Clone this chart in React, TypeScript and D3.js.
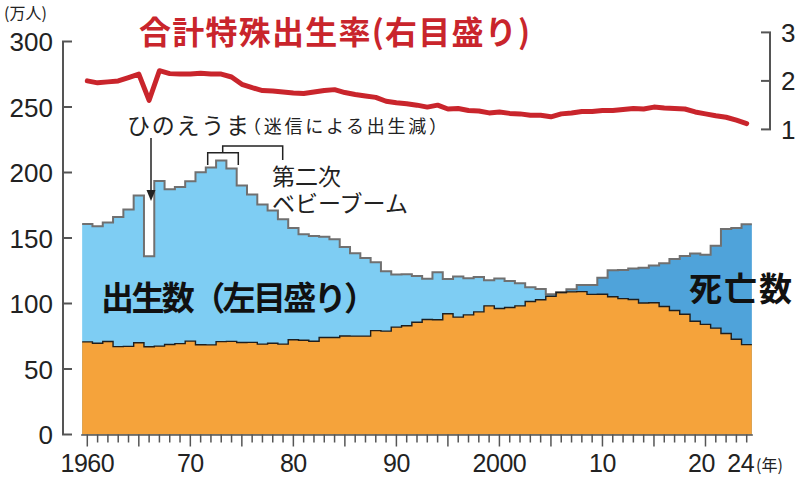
import React from 'react';
import * as d3 from 'd3';

// 1960〜2024年
const years = d3.range(1960, 2025);

// 出生数(万人)
const births = [
  160.6, 158.9, 161.9, 166.0, 171.7, 182.4, 136.1, 193.6, 187.2, 188.9,
  193.4, 200.1, 203.9, 209.2, 203.0, 190.1, 183.2, 175.5, 170.9, 164.3,
  157.7, 152.9, 151.5, 150.9, 149.0, 143.2, 138.3, 134.7, 131.4, 124.7,
  122.2, 122.3, 120.9, 118.8, 123.8, 118.7, 120.7, 119.2, 120.3, 117.8,
  119.1, 117.1, 115.4, 112.4, 111.1, 107.0, 108.5, 108.9, 109.1, 107.0,
  107.1, 105.1, 103.7, 103.0, 100.4, 100.6, 97.7, 94.6, 91.8, 86.5,
  84.1, 81.2, 77.1, 72.7, 68.6,
];

// 死亡数(万人)
const deaths = [
  70.7, 69.6, 71.0, 67.1, 67.3, 70.0, 67.0, 67.5, 68.7, 69.4,
  71.3, 68.5, 68.4, 70.9, 71.1, 70.2, 70.3, 69.0, 69.6, 69.0,
  72.3, 72.0, 71.2, 74.0, 74.0, 75.2, 75.1, 75.1, 79.3, 78.9,
  82.0, 83.0, 85.7, 87.8, 87.6, 92.2, 89.6, 91.3, 93.6, 98.2,
  96.2, 97.0, 98.2, 101.5, 102.9, 105.5, 108.4, 110.9, 114.2, 114.2,
  119.7, 125.3, 125.6, 126.8, 127.3, 129.0, 130.8, 134.0, 136.2, 138.1,
  137.3, 144.0, 156.9, 157.6, 160.5,
];

// 合計特殊出生率
const tfr = [
  2.00, 1.96, 1.98, 2.00, 2.07, 2.14, 1.60, 2.21, 2.15, 2.14,
  2.14, 2.16, 2.14, 2.14, 2.08, 1.93, 1.86, 1.80, 1.79, 1.77,
  1.75, 1.74, 1.77, 1.80, 1.82, 1.76, 1.72, 1.69, 1.66, 1.58,
  1.55, 1.53, 1.50, 1.46, 1.50, 1.42, 1.43, 1.39, 1.38, 1.34,
  1.36, 1.33, 1.32, 1.29, 1.29, 1.26, 1.32, 1.34, 1.37, 1.37,
  1.39, 1.39, 1.41, 1.43, 1.42, 1.46, 1.44, 1.43, 1.42, 1.36,
  1.32, 1.28, 1.25, 1.19, 1.12,
];

const leftTicks = [0, 50, 100, 150, 200, 250, 300];
const rightTicks = [1, 2, 3];
const xLabels: [number, string, number][] = [
  [1960, '1960', 0], [1970, '70', 0], [1980, '80', 0], [1990, '90', 0],
  [2000, '2000', 0], [2010, '10', 0], [2020, '20', -4], [2024, '24', -6],
];

const NUM = '"Liberation Sans", Arial, sans-serif';
const JP = '"Noto Sans CJK JP", "Noto Sans", sans-serif';

export default function App() {
  const x = d3.scaleLinear().domain([1960, 2024]).range([87.3, 746.7]);
  const half = (x(1961) - x(1960)) / 2;
  const y = d3.scaleLinear().domain([0, 300]).range([434.5, 41.5]);
  const yr = d3.scaleLinear().domain([1, 3]).range([129.4, 32.4]);

  // 階段状のための点列(最後の年の右端を追加)
  const steps = (vals: number[]) => {
    const pts: [number, number][] = years.map((yy, i) => [x(yy) - half, vals[i]]);
    pts.push([x(2024) + half, vals[vals.length - 1]]);
    return pts;
  };
  const lower = births.map((b, i) => Math.min(b, deaths[i]));
  const upper = births.map((b, i) => Math.max(b, deaths[i]));

  const area = d3.area<[number, number]>()
    .x(d => d[0]).y0(y(0)).y1(d => y(d[1]))
    .curve(d3.curveStepAfter);
  const stepLine = d3.line<[number, number]>()
    .x(d => d[0]).y(d => y(d[1]))
    .curve(d3.curveStepAfter);
  const tfrLine = d3.line<number>()
    .x((d, i) => x(years[i])).y(d => yr(d));

  return (
    <svg width={800} height={478} style={{ display: 'block', background: '#fff' }}>
      <style>{'body{margin:0}'}</style>

      {/* 面 */}
      <path d={area(steps(births)) || ''} fill="#7ecdf3" />
      <path d={area(steps(deaths)) || ''} fill="#4fa3da" />
      <path d={area(steps(lower)) || ''} fill="#f5a33b" />
      <path d={stepLine(steps(upper)) || ''} fill="none" stroke="#707070" strokeWidth={2} />
      <path d={stepLine(steps(lower)) || ''} fill="none" stroke="#1e1e1e" strokeWidth={1.4} />

      {/* 左軸 */}
      <g stroke="#555" strokeWidth={2} fill="none">
        <line x1={63} x2={63} y1={y(300)} y2={y(0)} />
        {leftTicks.map(t => (
          <line key={t} x1={62} x2={72} y1={y(t)} y2={y(t)} />
        ))}
      </g>
      <g fontFamily={NUM} fontSize={26} fill="#222" textAnchor="end">
        {leftTicks.map(t => (
          <text key={t} x={53} y={y(t) + 9.5}>{t}</text>
        ))}
      </g>
      <text x={4} y={19} fontFamily={JP} fontSize={16} fill="#222">(万人)</text>

      {/* 横軸 */}
      <g stroke="#555" strokeWidth={1.5}>
        <line x1={x(1960) - half - 1} x2={x(2024) + half + 1} y1={y(0) + 0.5} y2={y(0) + 0.5} />
        {years.map(yy => (
          <line key={yy} x1={x(yy)} x2={x(yy)} y1={y(0)} y2={y(0) + (yy % 5 === 0 ? 12 : 8)} />
        ))}
      </g>
      <g fontFamily={NUM} fontSize={25} fill="#222" textAnchor="middle">
        {xLabels.map(([yy, s, dx]) => (
          <text key={yy} x={x(yy) + dx} y={472} letterSpacing={-0.5}>{s}</text>
        ))}
      </g>
      <text x={756} y={471} fontFamily={JP} fontSize={16} fill="#222">(年)</text>

      {/* 右軸 */}
      <g stroke="#555" strokeWidth={2} fill="none">
        <line x1={770} x2={770} y1={yr(3)} y2={yr(1)} />
        {rightTicks.map(t => (
          <line key={t} x1={761} x2={771} y1={yr(t)} y2={yr(t)} />
        ))}
      </g>
      <g fontFamily={NUM} fontSize={26} fill="#222">
        {rightTicks.map(t => (
          <text key={t} x={781} y={yr(t) + 9.5}>{t}</text>
        ))}
      </g>

      {/* 合計特殊出生率 */}
      <path d={tfrLine(tfr) || ''} fill="none" stroke="#c9252c" strokeWidth={5}
        strokeLinejoin="round" strokeLinecap="round" />
      <text x={139} y={44} fontFamily={JP} fontWeight="bold" fontSize={32} fill="#c9252c"
        textLength={391} lengthAdjust="spacing">合計特殊出生率(右目盛り)</text>

      {/* 注記 */}
      <text x={127} y={134} fontFamily={JP} fontSize={23} fill="#222" textLength={122}
        lengthAdjust="spacing">ひのえうま</text>
      <text x={243} y={133} fontFamily={JP} fontSize={18} fill="#222" textLength={204}
        lengthAdjust="spacing">（迷信による出生減）</text>
      <g stroke="#222" strokeWidth={1.5} fill="none">
        <line x1={151} x2={151} y1={138} y2={192} />
        <path d="M207.7,165 V152.7 H238.3 V165" />
        <path d="M222.7,152.7 V146 H282.7 V160" />
      </g>
      <path d="M146.5,190 L155.5,190 L151,201 Z" fill="#222" />
      <text fontFamily={JP} fontSize={23} fill="#222">
        <tspan x={272} y={185}>第二次</tspan>
        <tspan x={272} y={212}>ベビーブーム</tspan>
      </text>

      <text x={101} y={310} fontFamily={JP} fontWeight="bold" fontSize={33} fill="#111"
        textLength={276} lengthAdjust="spacing">出生数（左目盛り）</text>
      <text x={689} y={301} fontFamily={JP} fontWeight="bold" fontSize={33} fill="#111"
        textLength={103} lengthAdjust="spacing">死亡数</text>
    </svg>
  );
}
